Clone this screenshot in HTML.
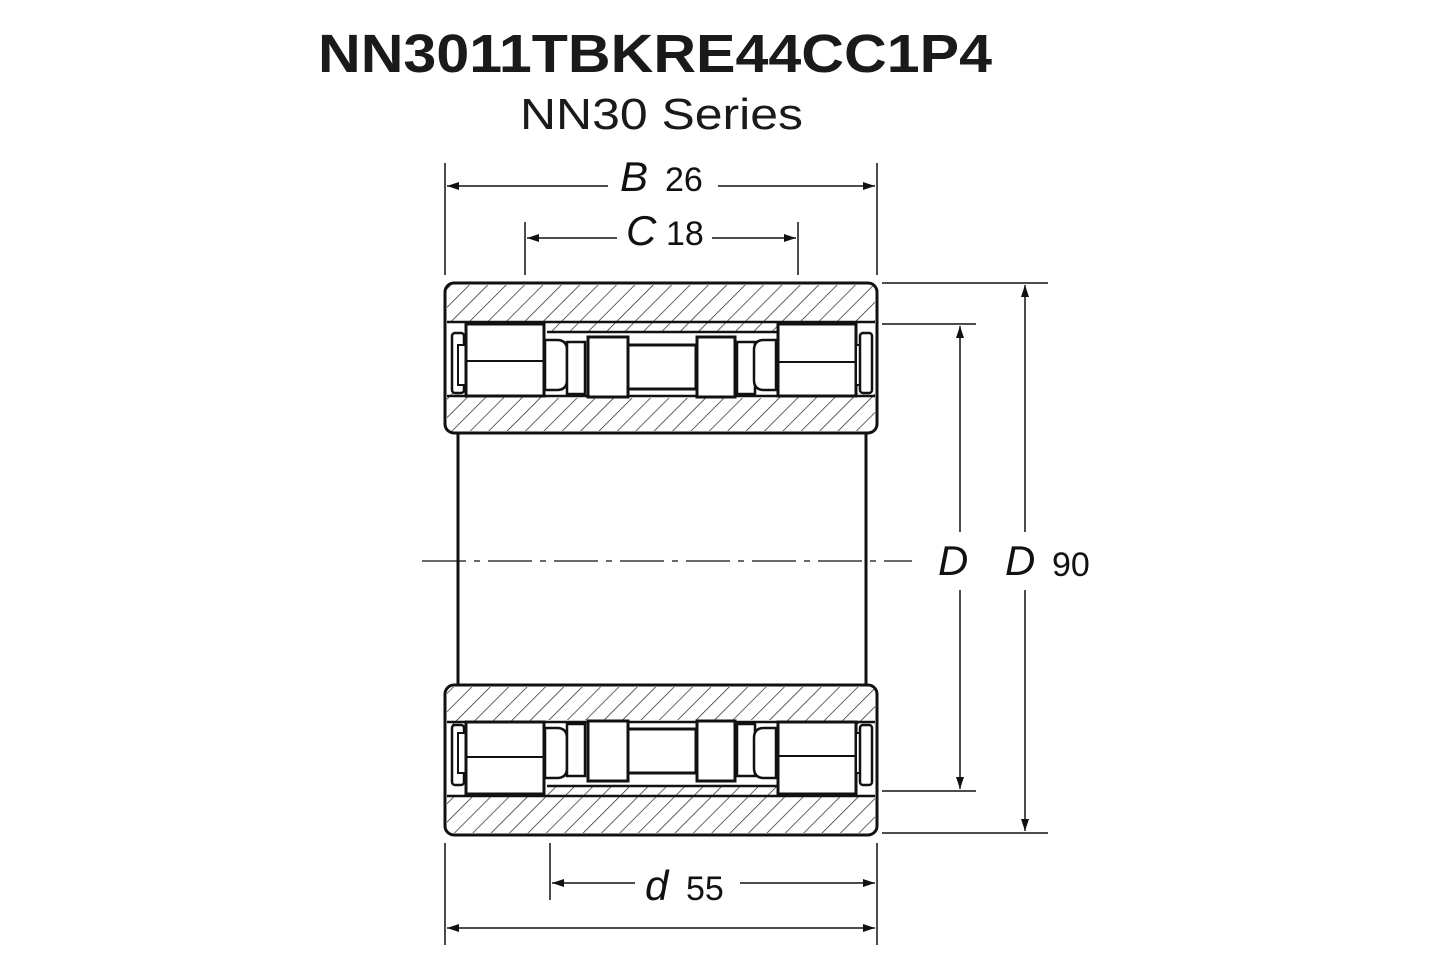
<!DOCTYPE html>
<html><head><meta charset="utf-8"><style>
html,body{margin:0;padding:0;background:#fff;}
svg{display:block;}
</style></head><body>
<svg width="1445" height="963" viewBox="0 0 1445 963" xmlns="http://www.w3.org/2000/svg">
<defs>
<pattern id="h" patternUnits="userSpaceOnUse" width="13" height="13" patternTransform="rotate(45)">
<line x1="0" y1="0" x2="0" y2="13" stroke="#222" stroke-width="1.4"/>
</pattern>
<marker id="a" viewBox="0 0 12 8" refX="12" refY="4" markerWidth="12" markerHeight="8" orient="auto-start-reverse" markerUnits="userSpaceOnUse">
<path d="M0,0 L12,4 L0,8 z" fill="#111"/>
</marker>
<g id="rows" stroke="#111" fill="#fff">
  <rect x="452" y="333" width="12" height="60" stroke-width="2.5" rx="3"/>
  <rect x="458" y="345" width="8" height="40" stroke-width="2"/>
  <rect x="466" y="324" width="78" height="72" stroke-width="3"/>
  <line x1="466" y1="361" x2="544" y2="361" stroke-width="2"/>
  <path d="M545,340 h12 q10,0 10,10 v30 q0,10 -10,10 h-12 z" stroke-width="2.5"/>
  <rect x="567" y="342" width="18" height="52" stroke-width="2.5"/>
  <rect x="588" y="337" width="40" height="60" stroke-width="3"/>
  <rect x="628" y="345" width="68" height="44" stroke-width="3"/>
  <rect x="697" y="337" width="38" height="60" stroke-width="3"/>
  <rect x="737" y="342" width="18" height="52" stroke-width="2.5"/>
  <path d="M776,340 h-12 q-10,0 -10,10 v30 q0,10 10,10 h12 z" stroke-width="2.5"/>
  <rect x="778" y="324" width="78" height="72" stroke-width="3"/>
  <line x1="778" y1="362" x2="856" y2="362" stroke-width="2"/>
  <rect x="856" y="345" width="8" height="40" stroke-width="2"/>
  <rect x="860" y="333" width="12" height="60" stroke-width="2.5" rx="3"/>
</g>
</defs>

<text x="318" y="72" textLength="674" lengthAdjust="spacingAndGlyphs" font-family="Liberation Sans, sans-serif" font-weight="bold" font-size="54" fill="#1a1a1a">NN3011TBKRE44CC1P4</text>
<text x="520" y="129" textLength="283" lengthAdjust="spacingAndGlyphs" font-family="Liberation Sans, sans-serif" font-size="44" fill="#1a1a1a">NN30 Series</text>

<rect x="445" y="283" width="432" height="150" rx="9" fill="#fff" stroke="#111" stroke-width="3"/>
<path d="M447,285 H875 V322 H858 V322 H778 V332 H547 V322 H447 z" fill="url(#h)"/>
<path d="M447,393 H544 V398 H778 V393 H875 V431 H447 z" fill="url(#h)"/>
<path d="M447,322 H875 M547,332 H778 M447,396 H875" stroke="#111" stroke-width="2.5" fill="none"/>
<use href="#rows"/>

<line x1="458" y1="433" x2="458" y2="685" stroke="#111" stroke-width="3"/>
<line x1="866" y1="433" x2="866" y2="685" stroke="#111" stroke-width="3"/>
<line x1="422" y1="561" x2="912" y2="561" stroke="#111" stroke-width="1.3" stroke-dasharray="44,8,6,8"/>

<rect x="445" y="685" width="432" height="150" rx="9" fill="#fff" stroke="#111" stroke-width="3"/>
<path d="M447,687 H875 V725 H778 V720 H544 V725 H447 z" fill="url(#h)"/>
<path d="M447,796 H544 V786 H778 V796 H875 V833 H447 z" fill="url(#h)"/>
<path d="M447,722 H875 M547,786 H778 M447,796 H875" stroke="#111" stroke-width="2.5" fill="none"/>
<use href="#rows" transform="translate(0,1118) scale(1,-1)"/>

<g stroke="#111" stroke-width="1.5" fill="none">
<line x1="445" y1="163" x2="445" y2="275"/>
<line x1="877" y1="163" x2="877" y2="275"/>
<line x1="525" y1="222" x2="525" y2="275"/>
<line x1="798" y1="222" x2="798" y2="275"/>
<line x1="447" y1="186" x2="608" y2="186" marker-start="url(#a)"/>
<line x1="718" y1="186" x2="875" y2="186" marker-end="url(#a)"/>
<line x1="527" y1="238" x2="617" y2="238" marker-start="url(#a)"/>
<line x1="712" y1="238" x2="796" y2="238" marker-end="url(#a)"/>
<line x1="882" y1="324" x2="976" y2="324"/>
<line x1="882" y1="791" x2="976" y2="791"/>
<line x1="882" y1="283" x2="1048" y2="283"/>
<line x1="882" y1="833" x2="1048" y2="833"/>
<line x1="960" y1="326" x2="960" y2="532" marker-start="url(#a)"/>
<line x1="960" y1="590" x2="960" y2="789" marker-end="url(#a)"/>
<line x1="1025" y1="285" x2="1025" y2="532" marker-start="url(#a)"/>
<line x1="1025" y1="590" x2="1025" y2="831" marker-end="url(#a)"/>
<line x1="550" y1="843" x2="550" y2="900"/>
<line x1="445" y1="843" x2="445" y2="945"/>
<line x1="877" y1="843" x2="877" y2="945"/>
<line x1="552" y1="883" x2="635" y2="883" marker-start="url(#a)"/>
<line x1="740" y1="883" x2="875" y2="883" marker-end="url(#a)"/>
<line x1="447" y1="928" x2="875" y2="928" marker-start="url(#a)" marker-end="url(#a)"/>
</g>
<g font-family="Liberation Sans, sans-serif" fill="#111">
<text x="620" y="191" font-size="42" font-style="italic">B</text>
<text x="665" y="191" font-size="34">26</text>
<text x="626" y="245" font-size="42" font-style="italic">C</text>
<text x="666" y="245" font-size="34">18</text>
<text x="938" y="575" font-size="42" font-style="italic">D</text>
<text x="1005" y="575" font-size="42" font-style="italic">D</text>
<text x="1052" y="576" font-size="34">90</text>
<text x="645" y="900" font-size="42" font-style="italic">d</text>
<text x="686" y="900" font-size="34">55</text>
</g>
</svg>
</body></html>
